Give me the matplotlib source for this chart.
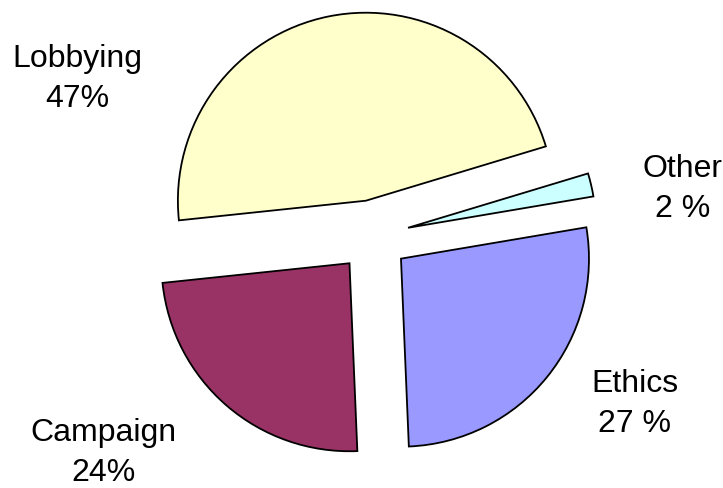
import matplotlib
matplotlib.use("Agg")
import matplotlib.pyplot as plt

# Data (clockwise order starting from the left)
categories = ["Lobbying", "Other", "Ethics", "Campaign"]
values = [47, 2, 27, 24]
label_texts = ["Lobbying\n47%", "Other\n2 %", "Ethics\n27 %", "Campaign\n24%"]
colors = ["#FFFFCC", "#CCFFFF", "#9999FF", "#993366"]

W, H = 723, 489
fig = plt.figure(figsize=(W / 100, H / 100), dpi=100)
ax = fig.add_axes([0, 0, 1, 1])

cx, cy = 373, H - 237
radius = 188
explode = [36] * len(values)

ax.pie(values, colors=colors, startangle=186, counterclock=False,
       radius=radius, center=(cx, cy), explode=explode,
       wedgeprops=dict(edgecolor="black", linewidth=1.3))

label_pos = [(77, 79), (683, 189), (635, 404), (103, 453)]
for txt, (x, y) in zip(label_texts, label_pos):
    ax.text(x, H - y, txt, ha="center", va="center", fontsize=23,
            family="Liberation Sans", linespacing=1.4)

ax.set_xlim(0, W)
ax.set_ylim(0, H)
ax.set_aspect("equal")
ax.axis("off")
fig.savefig("out.png", dpi=100)
